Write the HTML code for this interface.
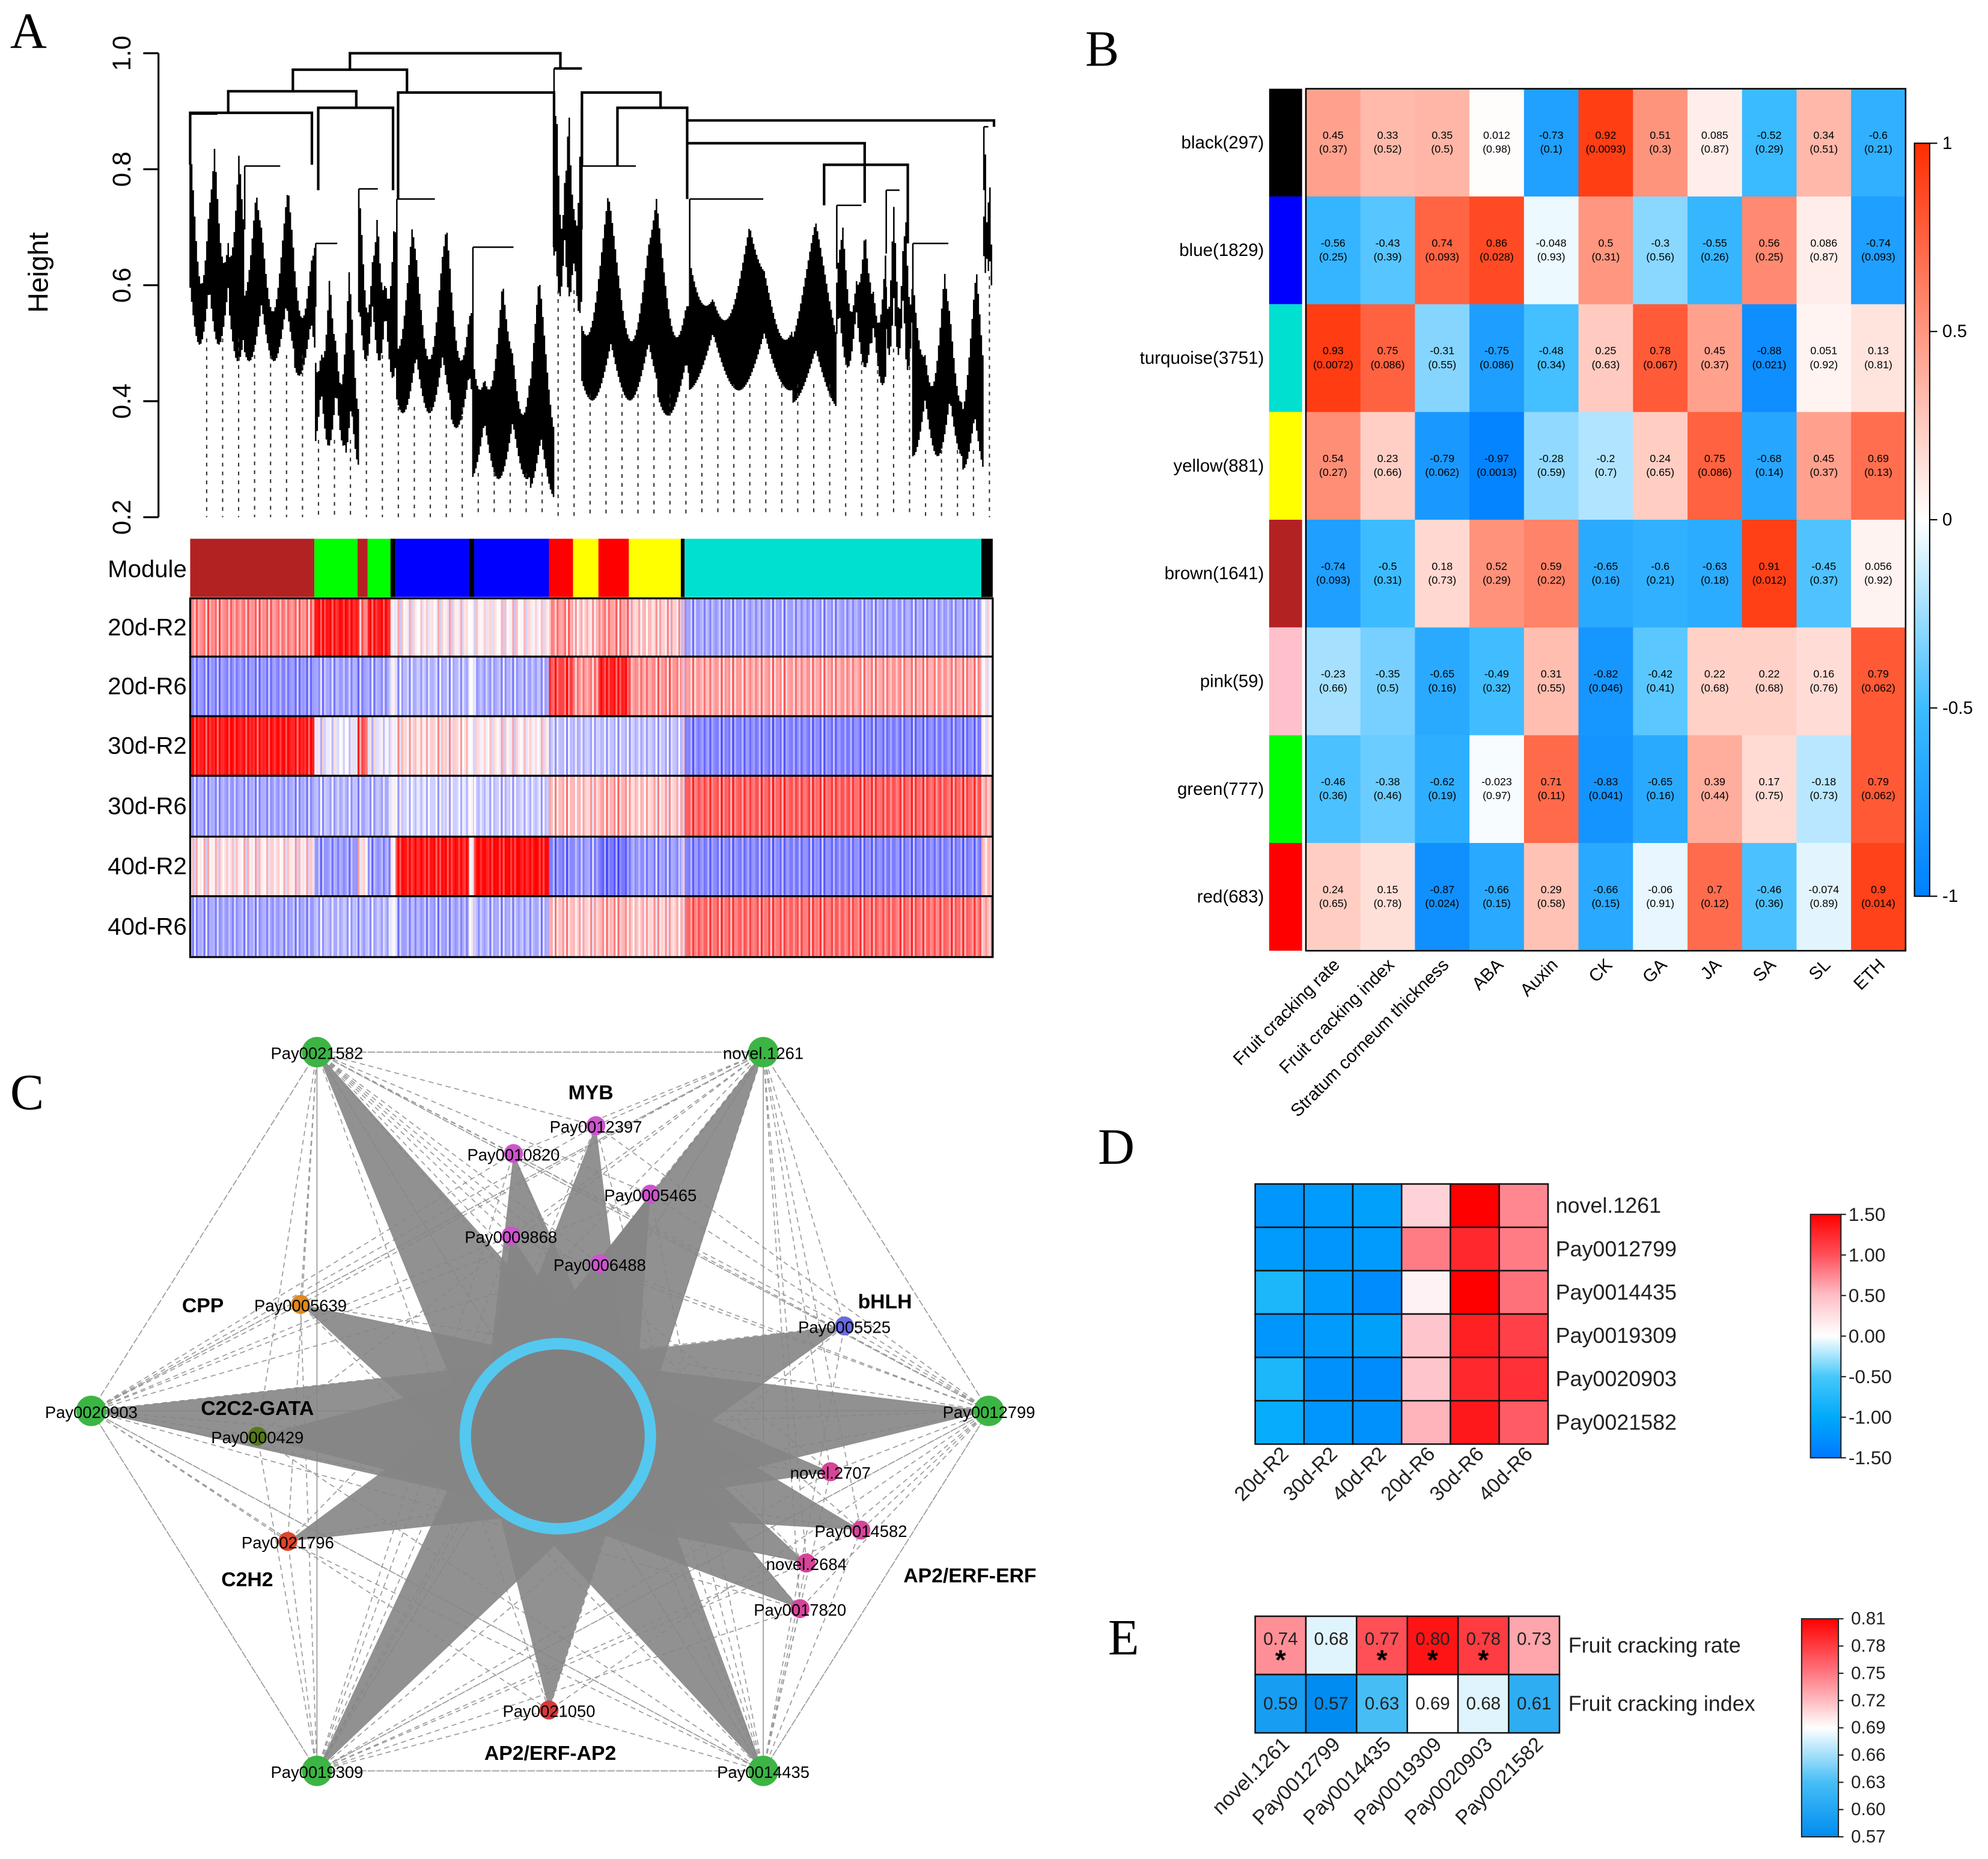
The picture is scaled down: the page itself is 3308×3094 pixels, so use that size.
<!DOCTYPE html>
<html><head><meta charset="utf-8"><style>
html,body{margin:0;padding:0;background:#fff;}
svg{display:block;font-family:"Liberation Sans",Arial,sans-serif;}
</style></head><body>
<svg id="fig" xmlns="http://www.w3.org/2000/svg" width="3308" height="3094" viewBox="0 0 1568 1466.5" preserveAspectRatio="none">
<rect x="0" y="0" width="1568" height="1467" fill="#fff"/>
<g id="pA"></g>
<g id="pB"></g>
<g id="pC"></g>
<g id="pD"></g>
<g id="pE"></g>
</svg>
<script>
// ---------- Panel B data ----------
const bRows = ["black(297)","blue(1829)","turquoise(3751)","yellow(881)","brown(1641)","pink(59)","green(777)","red(683)"];
const bRowColors = ["#000000","#0000ff","#00e0d0","#ffff00","#b22222","#ffc0cb","#00ff00","#ff0000"];
const bCols = ["Fruit cracking rate","Fruit cracking index","Stratum corneum thickness","ABA","Auxin","CK","GA","JA","SA","SL","ETH"];
const bR = [
 [0.45,0.33,0.35,0.012,-0.73,0.92,0.51,0.085,-0.52,0.34,-0.6],
 [-0.56,-0.43,0.74,0.86,-0.048,0.5,-0.3,-0.55,0.56,0.086,-0.74],
 [0.93,0.75,-0.31,-0.75,-0.48,0.25,0.78,0.45,-0.88,0.051,0.13],
 [0.54,0.23,-0.79,-0.97,-0.28,-0.2,0.24,0.75,-0.68,0.45,0.69],
 [-0.74,-0.5,0.18,0.52,0.59,-0.65,-0.6,-0.63,0.91,-0.45,0.056],
 [-0.23,-0.35,-0.65,-0.49,0.31,-0.82,-0.42,0.22,0.22,0.16,0.79],
 [-0.46,-0.38,-0.62,-0.023,0.71,-0.83,-0.65,0.39,0.17,-0.18,0.79],
 [0.24,0.15,-0.87,-0.66,0.29,-0.66,-0.06,0.7,-0.46,-0.074,0.9]];
const bP = [
 ["0.37","0.52","0.5","0.98","0.1","0.0093","0.3","0.87","0.29","0.51","0.21"],
 ["0.25","0.39","0.093","0.028","0.93","0.31","0.56","0.26","0.25","0.87","0.093"],
 ["0.0072","0.086","0.55","0.086","0.34","0.63","0.067","0.37","0.021","0.92","0.81"],
 ["0.27","0.66","0.062","0.0013","0.59","0.7","0.65","0.086","0.14","0.37","0.13"],
 ["0.093","0.31","0.73","0.29","0.22","0.16","0.21","0.18","0.012","0.37","0.92"],
 ["0.66","0.5","0.16","0.32","0.55","0.046","0.41","0.68","0.68","0.76","0.062"],
 ["0.36","0.46","0.19","0.97","0.11","0.041","0.16","0.44","0.75","0.73","0.062"],
 ["0.65","0.78","0.024","0.15","0.58","0.15","0.91","0.12","0.36","0.89","0.014"]];
const bTicks = [1,0.5,0,-0.5,-1];
// ---------- Panel D data ----------
const dGenes = ["novel.1261","Pay0012799","Pay0014435","Pay0019309","Pay0020903","Pay0021582"];
const dSamples = ["20d-R2","30d-R2","40d-R2","20d-R6","30d-R6","40d-R6"];
const dVals = [
 [-1.2,-1.15,-1.1,0.35,1.5,0.75],
 [-1.15,-1.2,-1.15,0.8,1.25,0.8],
 [-0.8,-1.15,-1.3,0.1,1.5,0.85],
 [-1.2,-1.15,-1.1,0.45,1.3,1.1],
 [-0.8,-1.25,-1.3,0.45,1.25,1.2],
 [-0.95,-1.2,-1.25,0.55,1.35,0.95]];
const dTicks = ["1.50","1.00","0.50","0.00","-0.50","-1.00","-1.50"];
// ---------- Panel E data ----------
const eTraits = ["Fruit cracking rate","Fruit cracking index"];
const eVals = [[0.74,0.68,0.77,0.80,0.78,0.73],[0.59,0.57,0.63,0.69,0.68,0.61]];
const eStars = [[1,0,1,1,1,0],[0,0,0,0,0,0]];
const eTicks = ["0.81","0.78","0.75","0.72","0.69","0.66","0.63","0.60","0.57"];
// ---------- Panel A data ----------
const aSamples = ["20d-R2","20d-R6","30d-R2","30d-R6","40d-R2","40d-R6"];
const aModules = ["brown","green","brown","green","black","blue","black","blue","red","yellow","red","yellow","black","turquoise","black"];
const aModColors = {brown:"#b22222",green:"#00ff00",black:"#000",blue:"#0000ff",red:"#ff0000",yellow:"#ffff00",turquoise:"#00e0d0"};
const aModWidths = [98,34,8,18,4,58,4,59,19,20,24,41,3,234,9];
const aExpr = [
 [0.45,0.9,0.5,0.9,0,0.05,0,0.05,0.4,0.2,0.4,0.2,0,-0.45,0],
 [-0.55,-0.45,-0.5,-0.45,0,-0.35,0,-0.4,0.7,0.4,0.85,0.4,0,0.35,0],
 [0.9,-0.1,0.6,-0.1,0,0.15,0,0.05,-0.3,-0.3,-0.3,-0.3,0,-0.6,0],
 [-0.45,-0.35,-0.4,-0.35,0,-0.2,0,-0.25,0.25,0.2,0.3,0.2,0,0.6,0.3],
 [0.1,-0.5,0.1,-0.5,0,0.9,0,0.95,-0.6,-0.5,-0.7,-0.5,0,-0.6,0.2],
 [-0.45,-0.35,-0.4,-0.35,0,-0.45,0,-0.4,0.25,0.2,0.3,0.2,0,0.55,0.3]];
const aYTicks = [1.0,0.8,0.6,0.4,0.2];

const NS="http://www.w3.org/2000/svg";
function mk(tag,attrs,parent,text){const e=document.createElementNS(NS,tag);for(const k in attrs)e.setAttribute(k,attrs[k]);if(text!==undefined)e.textContent=text;parent.appendChild(e);return e;}
function lerp(a,b,t){return a.map((v,i)=>Math.round(v+(b[i]-v)*t));}
function rgb(c){return "rgb("+c.join(",")+")";}
function ramp(stops,v){
 if(v<=stops[0][0])return rgb(stops[0][1]);
 for(let i=1;i<stops.length;i++){if(v<=stops[i][0]){const t=(v-stops[i-1][0])/(stops[i][0]-stops[i-1][0]);return rgb(lerp(stops[i-1][1],stops[i][1],t));}}
 return rgb(stops[stops.length-1][1]);}
const bScale=[[-1,[0,128,255]],[-0.5,[60,188,255]],[0,[255,255,255]],[0.5,[255,150,128]],[1,[255,45,0]]];
const dScale=[[-1.5,[0,120,255]],[-1,[0,170,250]],[-0.5,[70,200,250]],[0,[255,255,255]],[0.5,[255,190,198]],[1,[255,80,90]],[1.5,[255,0,0]]];
const eScale=[[0.57,[0,140,240]],[0.63,[70,190,245]],[0.69,[255,255,255]],[0.75,[255,120,130]],[0.81,[255,0,0]]];

// ================= Panel A =================
(function(){
 const g=document.getElementById('pA');
 const L=mk('text',{x:8,y:38,'font-family':'Liberation Serif,serif','font-size':40},g,'A');
 
 
 const yA=v=>42+(1.0-v)/0.8*366;
 const ax=mk('line',{x1:125,y1:yA(1),x2:125,y2:yA(0.2),stroke:'#000','stroke-width':1.5},g);
 
 
 aYTicks.forEach(t=>{
  const tk=mk('line',{x1:113,x2:125,y1:yA(t),y2:yA(t),stroke:'#000','stroke-width':1.5},g);
  
  
  const tl=mk('text',{x:96,y:yA(t),'font-size':20,'text-anchor':'middle',transform:`rotate(-90 96 ${yA(t)})`,'dominant-baseline':'central'},g,t.toFixed(1));
  
  
 });
 const yt=mk('text',{x:30,y:215,'font-size':22,'text-anchor':'middle',transform:'rotate(-90 30 215)','dominant-baseline':'central'},g,'Height');
 
 
 const dg=mk('g',{},g);
 
 
 const clusters=[[150,193,90,272],[193,249,131,285],[249,283,192,352],[283,313,149,285],[313,373,157,326],[373,437,195,378],[437,459,54,234],[459,544,131,316],[544,660,157,308],[660,699,162,290],[699,720,150,280],[720,776,192,360],[776,783,100,223]];
 let d='';
 clusters.forEach((c,ci)=>{
  for(let x=c[0];x<=c[1];x+=1.2){
   const f=(x-c[0])/(c[1]-c[0]);
   const bot=c[3]-45+45*Math.abs(Math.sin(f*9+ci))+(f>0.7?15*f:0);
   const top=c[2]+(bot-c[2])*(0.15+0.6*Math.abs(Math.sin(f*7+ci*2)));
   d+=`M${x.toFixed(1)} ${top.toFixed(1)}V${bot.toFixed(1)}`;
  }
  d+=`M${c[0]} ${c[2]}V${c[2]+50}M${c[0]} ${c[2]}H${(c[0]+c[1])/2}`;
 });
 mk('path',{d:d,stroke:'#000','stroke-width':1.2,fill:'none'},dg);
 const br=[[276,442,42,55,54],[231,321,55,72,73],[180,281,72,89,85],[150,246,89,130,130],[251,310,85,150,150],[314,437,73,157,195],[459,521,73,131,85],[487,542,85,131,157],[542,784,95,157,100],[542,682,113,157,160],[650,716,130,162,192],[437,459,54,54,54]];
 let bd='';
 br.forEach(b=>{bd+=`M${b[0]} ${b[3]}V${b[2]}H${b[1]}V${b[4]}`;});
 mk('path',{d:bd,stroke:'#000','stroke-width':2,fill:'none'},dg);
 let dd='';
 for(let x=163;x<=782;x+=12.6){
  let st=300;clusters.forEach(c=>{if(x>=c[0]&&x<=c[1])st=c[3]-5;});
  dd+=`M${x.toFixed(1)} ${st}V408`;
 }
 mk('path',{d:dd,stroke:'#333','stroke-width':1,'stroke-dasharray':'3 4',fill:'none'},dg);
 const ml=mk('text',{x:85,y:449,'font-size':19,'dominant-baseline':'central'},g,'Module');
 
 
 let x=150;
 aModules.forEach((m,i)=>{
  const r=mk('rect',{x:x,y:425,width:aModWidths[i],height:46,fill:aModColors[m]},g);
  
  
  x+=aModWidths[i];
 });
 const rowY=[472,518,565,612,660,707,755];
 aSamples.forEach((s,si)=>{
  let x=150;
  const y0=rowY[si],h=rowY[si+1]-rowY[si];
  aModules.forEach((m,i)=>{
   const w=aModWidths[i];
   for(let k=0;k<w;k+=1.5){
    const v=aExpr[si][i]+0.35*Math.sin((x+k)*1.7+si*3)*Math.cos((x+k)*0.31);
    const c=v>=0?lerp([255,255,255],[255,0,0],Math.min(1,v)):lerp([255,255,255],[60,60,255],Math.min(1,-v));
    const r=mk('rect',{x:x+k,y:y0,width:1.6,height:h,fill:rgb(c)},g);
    
    
   }
   x+=w;
  });
  const b=mk('rect',{x:150,y:y0,width:633,height:h,fill:'none',stroke:'#000','stroke-width':1.5},g);
  
  
  const t=mk('text',{x:85,y:y0+h/2,'font-size':19,'dominant-baseline':'central'},g,s);
  
  
 });
})();

// ================= Panel B =================
(function(){
 const g=document.getElementById('pB');
 const L=mk('text',{x:856,y:52,'font-family':'Liberation Serif,serif','font-size':40},g,'B');
 
 
 const x0=1030,y0=70,cw=43,rh=85;
 bRows.forEach((r,ri)=>{
  const s=mk('rect',{x:1001,y:y0+ri*rh,width:26,height:rh,fill:bRowColors[ri]},g);
  
  
  const t=mk('text',{x:997,y:y0+ri*rh+rh/2,'font-size':14,'text-anchor':'end','dominant-baseline':'central'},g,r);
  
  
  bCols.forEach((c,ci)=>{
   const cx=x0+ci*cw;
   const cell=mk('rect',{x:cx,y:y0+ri*rh,width:cw+0.5,height:rh+0.5,fill:ramp(bScale,bR[ri][ci])},g);
   
   
   const t1=mk('text',{x:cx+cw/2,y:y0+ri*rh+rh/2-3,'font-size':8.5,'text-anchor':'middle'},g,String(bR[ri][ci]));
   
   
   const t2=mk('text',{x:cx+cw/2,y:y0+ri*rh+rh/2+8,'font-size':8.5,'text-anchor':'middle'},g,'('+bP[ri][ci]+')');
   
   
  });
 });
 const fr=mk('rect',{x:x0,y:y0,width:cw*11,height:rh*8,fill:'none',stroke:'#000','stroke-width':1.2},g);
 
 
 bCols.forEach((c,ci)=>{
  const cx=x0+ci*cw+cw/2+6;
  const t=mk('text',{x:cx,y:762,'font-size':14,'text-anchor':'end',transform:`rotate(-45 ${cx} 762)`},g,c);
  
  
 });
 const defs=mk('defs',{},g);
 const lg=mk('linearGradient',{id:'gb',x1:0,y1:0,x2:0,y2:1},defs);
 for(let i=0;i<=20;i++){const v=1-i/10;mk('stop',{offset:(i/20),'stop-color':ramp(bScale,v)},lg);}
 const cb=mk('rect',{x:1510,y:113,width:12,height:594,fill:'url(#gb)',stroke:'#000','stroke-width':1},g);
 
 
 bTicks.forEach(t=>{
  const y=113+(1-t)/2*594;
  const tk=mk('line',{x1:1522,x2:1528,y1:y,y2:y,stroke:'#000'},g);
  
  
  const tl=mk('text',{x:1532,y:y,'font-size':14,'dominant-baseline':'central'},g,String(t));
  
  
 });
})();

// ================= Panel C =================
(function(){
 const g=document.getElementById('pC');
 const L=mk('text',{x:8,y:875,'font-family':'Liberation Serif,serif','font-size':40},g,'C');
 
 
 const C=[440,1133];
 const outer=[["Pay0021582",250,830],["novel.1261",602,830],["Pay0020903",72,1113],["Pay0012799",780,1113],["Pay0019309",250,1397],["Pay0014435",602,1397]];
 const inner=[["Pay0012397",470,888,"#cc55cc"],["Pay0010820",405,910,"#cc55cc"],["Pay0005465",513,942,"#cc55cc"],["Pay0009868",403,975,"#cc55cc"],["Pay0006488",473,997,"#cc55cc"],["Pay0005639",237,1029,"#e08a1e"],["Pay0005525",666,1046,"#6a6adf"],["Pay0000429",203,1133,"#557a1e"],["novel.2707",655,1161,"#d6449a"],["Pay0014582",679,1207,"#d6449a"],["Pay0021796",227,1216,"#e0442a"],["novel.2684",636,1233,"#d6449a"],["Pay0017820",631,1269,"#d6449a"],["Pay0021050",433,1349,"#d63a3a"]];
 let dd='';
 outer.forEach(o=>{
  outer.forEach(p=>{if(p!==o)dd+=`M${o[1]} ${o[2]}L${p[1]} ${p[2]}`;});
  inner.forEach(p=>{dd+=`M${o[1]} ${o[2]}L${p[1]} ${p[2]}`;});
 });
 const de=mk('path',{d:dd,stroke:'#9a9a9a','stroke-width':0.8,'stroke-dasharray':'4 3',fill:'none'},g);
 
 
 const all=outer.concat(inner);
 all.forEach(n=>{
  const dx=n[1]-C[0],dy=n[2]-C[1],len=Math.hypot(dx,dy);
  const px=-dy/len,py=dx/len,w=62;
  const sp=mk('polygon',{points:`${n[1]},${n[2]} ${C[0]+px*w},${C[1]+py*w} ${C[0]-px*w},${C[1]-py*w}`,fill:'#858585','fill-opacity':0.9},g);
  
  
 });
 const hub=mk('circle',{cx:C[0],cy:C[1],r:73,fill:'#808080',stroke:'#55c8f0','stroke-width':9},g);
 
 
 outer.forEach(o=>{
  const c=mk('circle',{cx:o[1],cy:o[2],r:12,fill:'#3cb544'},g);
  
  
  const t=mk('text',{x:o[1],y:o[2]+1,'font-size':13,'text-anchor':'middle','dominant-baseline':'central'},g,o[0]);
  
  
 });
 inner.forEach(o=>{
  const c=mk('circle',{cx:o[1],cy:o[2],r:7.5,fill:o[3]},g);
  
  
  const t=mk('text',{x:o[1],y:o[2]+1,'font-size':13,'text-anchor':'middle','dominant-baseline':'central'},g,o[0]);
  
  
 });
 const fams=[["MYB",466,862],["CPP",160,1030],["bHLH",698,1027],["C2C2-GATA",203,1111],["C2H2",195,1246],["AP2/ERF-ERF",765,1243],["AP2/ERF-AP2",434,1383]];
 fams.forEach(f=>{
  const t=mk('text',{x:f[1],y:f[2],'font-size':16,'font-weight':'bold','text-anchor':'middle','dominant-baseline':'central'},g,f[0]);
  
  
 });
})();

// ================= Panel D =================
(function(){
 const g=document.getElementById('pD');
 const L=mk('text',{x:866,y:918,'font-family':'Liberation Serif,serif','font-size':40},g,'D');
 
 
 const x0=990,y0=934,cw=38.5,rh=34.2;
 dGenes.forEach((gn,ri)=>{
  dSamples.forEach((s,ci)=>{
   const r=mk('rect',{x:x0+ci*cw,y:y0+ri*rh,width:cw,height:rh,fill:ramp(dScale,dVals[ri][ci]),stroke:'#111','stroke-width':1.2},g);
   
   
  });
  const t=mk('text',{x:1227,y:y0+ri*rh+rh/2,'font-size':17,'dominant-baseline':'central',fill:'#222'},g,gn);
  
  
 });
 dSamples.forEach((s,ci)=>{
  const cx=x0+ci*cw+cw/2+8,cy=1148;
  const t=mk('text',{x:cx,y:cy,'font-size':16,'text-anchor':'end',fill:'#222',transform:`rotate(-45 ${cx} ${cy})`},g,s);
  
  
 });
 const defs=mk('defs',{},g);
 const lg=mk('linearGradient',{id:'gd',x1:0,y1:0,x2:0,y2:1},defs);
 for(let i=0;i<=12;i++){mk('stop',{offset:i/12,'stop-color':ramp(dScale,1.5-i*0.25)},lg);}
 const cb=mk('rect',{x:1428,y:958,width:24,height:192,fill:'url(#gd)',stroke:'#222','stroke-width':1},g);
 
 
 dTicks.forEach((t,i)=>{
  const y=958+i*32;
  const tk=mk('line',{x1:1452,x2:1456,y1:y,y2:y,stroke:'#222'},g);
  
  
  const tl=mk('text',{x:1458,y:y,'font-size':15,'dominant-baseline':'central',fill:'#222'},g,t);
  
  
 });
})();

// ================= Panel E =================
(function(){
 const g=document.getElementById('pE');
 const L=mk('text',{x:874,y:1305,'font-family':'Liberation Serif,serif','font-size':40},g,'E');
 
 
 const x0=990,y0=1275,cw=40,rh=46;
 eTraits.forEach((tr,ri)=>{
  eVals[ri].forEach((v,ci)=>{
   const r=mk('rect',{x:x0+ci*cw,y:y0+ri*rh,width:cw,height:rh,fill:ramp(eScale,v),stroke:'#111','stroke-width':1.2},g);
   
   
   const t=mk('text',{x:x0+ci*cw+cw/2,y:y0+ri*rh+(ri===0?18:23),'font-size':14,'text-anchor':'middle','dominant-baseline':'central',fill:'#222'},g,v.toFixed(2));
   
   
   if(eStars[ri][ci]){
    const s=mk('text',{x:x0+ci*cw+cw/2,y:y0+ri*rh+42,'font-size':22,'font-weight':'bold','text-anchor':'middle'},g,'*');
    
    
   }
  });
  const t=mk('text',{x:1237,y:y0+ri*rh+rh/2,'font-size':17,'dominant-baseline':'central',fill:'#222'},g,tr);
  
  
 });
 dGenes.forEach((gn,ci)=>{
  const cx=x0+ci*cw+cw/2+8,cy=1377;
  const t=mk('text',{x:cx,y:cy,'font-size':16,'text-anchor':'end',fill:'#222',transform:`rotate(-45 ${cx} ${cy})`},g,gn);
  
  
 });
 const defs=mk('defs',{},g);
 const lg=mk('linearGradient',{id:'ge',x1:0,y1:0,x2:0,y2:1},defs);
 for(let i=0;i<=8;i++){mk('stop',{offset:i/8,'stop-color':ramp(eScale,0.81-i*0.03)},lg);}
 const cb=mk('rect',{x:1421,y:1277,width:29,height:172,fill:'url(#ge)',stroke:'#222','stroke-width':1},g);
 
 
 eTicks.forEach((t,i)=>{
  const y=1277+i*21.5;
  const tk=mk('line',{x1:1450,x2:1454,y1:y,y2:y,stroke:'#222'},g);
  
  
  const tl=mk('text',{x:1460,y:y,'font-size':14,'dominant-baseline':'central',fill:'#222'},g,t);
  
  
 });
})();
</script>
</body></html>
